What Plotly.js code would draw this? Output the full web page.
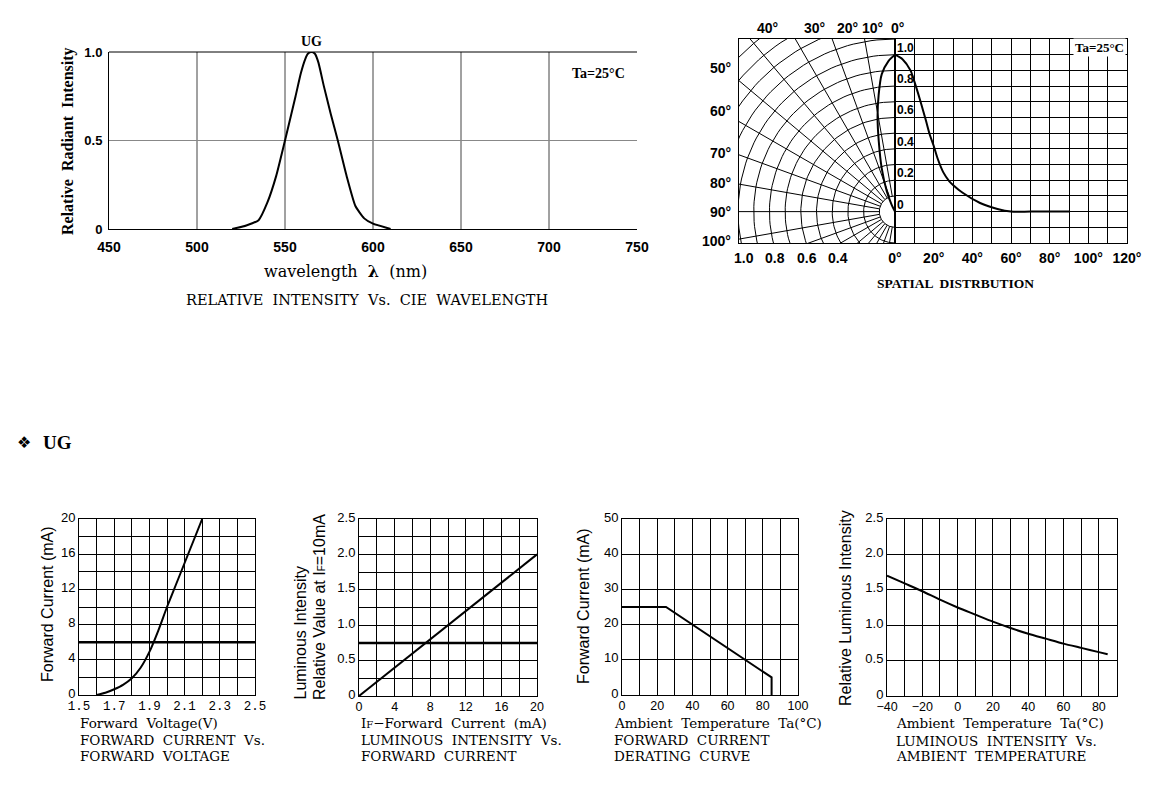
<!DOCTYPE html>
<html><head><meta charset="utf-8">
<script src="https://cdn.plot.ly/plotly-3.0.1.min.js"></script>
<style>html,body{margin:0;padding:0;background:#fff}</style>
</head><body><div id="chart" style="width:1165px;height:786px"></div>
<script>
const W=1165,H=786;

// ---- Relative intensity vs wavelength ----
const wavelength=[520,528,535,540,545,550,556,559,561.5,563,565,567,569,572,576,580,585,590,595,600,610];
const relIntensity=[0,0.02,0.05,0.15,0.3,0.5,0.75,0.88,0.96,0.99,1.0,0.99,0.94,0.81,0.65,0.5,0.3,0.13,0.06,0.03,0];
const specXTicks=[450,500,550,600,650,700,750];
const specGrid=[500,550,600,650,700];
const specYTicks=[0,0.5,1.0];
const specYText=['0','0.5','1.0'];

// ---- Spatial distribution ----
const spAngle=[0,4,8,10,13,16,18,20,22,25,28,30,35,44,53,60,70,80,90];
const spIntensity=[1.0,0.97,0.9,0.83,0.71,0.58,0.49,0.42,0.34,0.25,0.195,0.17,0.12,0.055,0.017,0,0,0,0];
const polAngle=[0,2.5,5.5,8,10.5,13,17,22,26,30];
const polR=[1.0,0.96,0.88,0.75,0.61,0.46,0.29,0.14,0.05,0];
const spXTicks=[0,20,40,60,80,100,120];
const spXText=['0°','20°','40°','60°','80°','100°','120°'];
const spInnerTicks=[0,0.2,0.4,0.6,0.8,1.0];
const spInnerText=['0','0.2','0.4','0.6','0.8','1.0'];
const polRadTicks=[1.0,0.8,0.6,0.4];
const polRadText=['1.0','0.8','0.6','0.4'];
const polTopLabels=['40°','30°','20°','10°','0°'];
const polLeftLabels=['50°','60°','70°','80°','90°','100°'];

// ---- Forward current vs forward voltage ----
const fvVoltage=[1.6,1.65,1.7,1.75,1.8,1.85,1.9,1.95,2.0,2.05,2.1,2.15,2.2];
const fvCurrent=[0,0.25,0.65,1.15,1.9,3.1,4.9,7.3,10,12.5,15,17.5,20];
const fvLevel=6;

// ---- Luminous intensity vs forward current ----
const ifCurrent=[0,20];
const ifLum=[0,2.0];
const ifLevel=0.75;
const lumYTicks=[0,0.25,0.5,0.75,1.0,1.25,1.5,1.75,2.0,2.25,2.5];
const lumYText=['0','','0.5','','1.0','','1.5','','2.0','','2.5'];

// ---- Derating curve ----
const derTemp=[0,25,85,85];
const derCurrent=[25,25,5,0];

// ---- Luminous intensity vs ambient temperature ----
const ambTemp=[-40,-30,-20,-10,0,10,20,30,40,50,60,70,80,85];
const ambLum=[1.7,1.59,1.48,1.36,1.25,1.15,1.05,0.96,0.88,0.81,0.74,0.68,0.62,0.59];
const ambYTicks=[0,0.5,1.0,1.5,2.0,2.5];
const ambYText=['0','0.5','1.0','1.5','2.0','2.5'];

// ---------- helpers ----------
const xd=(l,r)=>[l/W,r/W];
const yd=(t,b)=>[(H-b)/H,(H-t)/H];
const SANS='Liberation Sans, Arial, sans-serif';
const SERIF='Liberation Serif, Times New Roman, serif';
const TYPE='DejaVu Serif, serif';
const fBS=s=>({family:SANS,size:s,color:'#000',weight:700});
const fBT=s=>({family:SERIF,size:s,color:'#000',weight:700});
const fT=s=>({family:TYPE,size:s,color:'#000'});
const fS=s=>({family:SANS,size:s,color:'#000'});
const A=(t,x,y,font,o)=>Object.assign({text:t,xref:'paper',yref:'paper',x:x/W,y:1-y/H,showarrow:false,xanchor:'center',yanchor:'middle',font:font},o||{});
const rad=d=>d*Math.PI/180;

// polar grid geometry (left half of the spatial chart)
const PCX=895, PPX=156.9;
const arcX=[],arcY=[];
for(let k=1;k<=15;k++){const r=k/10;for(let a=0;a<=180;a+=2){arcX.push(-r*Math.sin(rad(a)));arcY.push(r*Math.cos(rad(a)));}arcX.push(null);arcY.push(null);}
const rayX=[],rayY=[];
for(let a=10;a<=170;a+=10){rayX.push(-0.1*Math.sin(rad(a)),-2.5*Math.sin(rad(a)),null);rayY.push(0.1*Math.cos(rad(a)),2.5*Math.cos(rad(a)),null);}
const polX=polR.map((r,i)=>-r*Math.sin(rad(polAngle[i])));
const polY=polR.map((r,i)=>r*Math.cos(rad(polAngle[i])));

const blk={color:'#000',width:2};
const traces=[
 {x:wavelength,y:relIntensity,xaxis:'x',yaxis:'y',mode:'lines',line:{color:'#000',width:2,shape:'spline',smoothing:0.5}},
 {x:arcX,y:arcY,xaxis:'x2',yaxis:'y2',mode:'lines',line:{color:'#000',width:1}},
 {x:rayX,y:rayY,xaxis:'x2',yaxis:'y2',mode:'lines',line:{color:'#000',width:1}},
 {x:polX,y:polY,xaxis:'x2',yaxis:'y2',mode:'lines',line:{color:'#000',width:2,shape:'spline',smoothing:0.8}},
 {x:spAngle,y:spIntensity,xaxis:'x3',yaxis:'y3',mode:'lines',line:{color:'#000',width:2,shape:'spline',smoothing:0.8}},
 {x:fvVoltage,y:fvCurrent,xaxis:'x4',yaxis:'y4',mode:'lines',line:{color:'#000',width:2,shape:'spline',smoothing:0.6}},
 {x:ifCurrent,y:ifLum,xaxis:'x5',yaxis:'y5',mode:'lines',line:blk},
 {x:derTemp,y:derCurrent,xaxis:'x6',yaxis:'y6',mode:'lines',line:blk},
 {x:ambTemp,y:ambLum,xaxis:'x7',yaxis:'y7',mode:'lines',line:{color:'#000',width:2,shape:'spline',smoothing:0.6}}
];

const base={showline:true,linecolor:'#000',linewidth:1,mirror:true,showgrid:true,gridcolor:'#000',gridwidth:1,zeroline:false,ticks:'',fixedrange:true,tickfont:fS(13)};
const ax=(o)=>Object.assign({},base,o);
const mn=(d)=>({dtick:d,showgrid:true,gridcolor:'#000',gridwidth:1,ticks:''});
const yb={ticklabelshift:-2};
const xb={ticklabelstandoff:-1,tickfont:fS(12.5)};

const layout={
 width:W,height:H,margin:{l:0,r:0,t:0,b:0},paper_bgcolor:'#fff',plot_bgcolor:'#fff',showlegend:false,
 xaxis:ax({domain:xd(109,637),range:[450,750],tickvals:specXTicks,showgrid:false,mirror:false,anchor:'y',tickfont:fBS(14),ticklabelstandoff:5}),
 yaxis:ax({domain:yd(52,229),range:[0,1],tickvals:specYTicks,ticktext:specYText,gridcolor:'#888',mirror:false,anchor:'x',tickfont:fBS(13),ticklabelstandoff:3}),
 xaxis2:ax({domain:xd(739,895),range:[-0.994,0],showgrid:false,showticklabels:false,anchor:'y2'}),
 yaxis2:ax({domain:yd(39,243),range:[-0.2,1.1],showgrid:false,showticklabels:false,anchor:'x2'}),
 xaxis3:ax({domain:xd(895,1127),range:[0,120],tickvals:spXTicks,ticktext:spXText,minor:mn(10),anchor:'y3',tickfont:fBS(14),ticklabelstandoff:2}),
 yaxis3:ax({domain:yd(39,243),range:[-0.2,1.1],tick0:0,dtick:0.1,showticklabels:false,anchor:'x3'}),
 xaxis4:ax(Object.assign({},xb,{domain:xd(79,255),range:[1.5,2.5],tick0:1.5,dtick:0.2,minor:mn(0.1),anchor:'y4',tickfont:{family:'Liberation Mono, monospace',size:12.5,color:'#000'}})),
 yaxis4:ax(Object.assign({domain:yd(519,695),range:[0,20],tick0:0,dtick:4,minor:mn(2),anchor:'x4'},yb)),
 xaxis5:ax(Object.assign({},xb,{domain:xd(359,537),range:[0,20],tick0:0,dtick:4,minor:mn(2),anchor:'y5'})),
 yaxis5:ax(Object.assign({domain:yd(519,696),range:[0,2.5],tickvals:lumYTicks,ticktext:lumYText,anchor:'x5'},yb)),
 xaxis6:ax(Object.assign({},xb,{domain:xd(622,798),range:[0,100],tick0:0,dtick:20,minor:mn(10),anchor:'y6'})),
 yaxis6:ax(Object.assign({domain:yd(519,695),range:[0,50],tick0:0,dtick:10,anchor:'x6'},yb)),
 xaxis7:ax(Object.assign({},xb,{domain:xd(887,1116.5),range:[-40,90],tick0:-40,dtick:20,minor:mn(10),anchor:'y7'})),
 yaxis7:ax(Object.assign({domain:yd(519,696),range:[0,2.5],tickvals:ambYTicks,ticktext:ambYText,anchor:'x7'},yb)),
 shapes:[
  {type:'line',xref:'x domain',yref:'y domain',x0:0,x1:1,y0:1,y1:1,line:{color:'#000',width:1}},
  {type:'line',xref:'x4 domain',yref:'y4',x0:0,x1:1,y0:fvLevel,y1:fvLevel,line:{color:'#000',width:2.5}},
  {type:'line',xref:'x5 domain',yref:'y5',x0:0,x1:1,y0:ifLevel,y1:ifLevel,line:{color:'#000',width:2.5}}
 ],
 annotations:[]
};
// vertical grid of the wavelength chart (no line at the right edge, as in the reference)
specGrid.forEach(v=>layout.shapes.unshift({type:'line',xref:'x',yref:'y domain',x0:v,x1:v,y0:0,y1:1,layer:'below',line:{color:'#444',width:1}}));

const an=layout.annotations;
// top-left chart
an.push({text:'UG',xref:'x',yref:'paper',x:565,y:1-42/H,xanchor:'center',yanchor:'middle',showarrow:false,font:fBT(14)});
an.push(A('Ta=25°C',598,73,fBT(14)));
an.push(A('Relative  Radiant  Intensity',68,141,fBT(16),{textangle:-90}));
an.push(A('wavelength  <b>λ</b>  (nm)',345,271,fT(16)));
an.push(A('RELATIVE  INTENSITY  Vs.  CIE  WAVELENGTH',367,300,fT(14.5)));
// spatial
const topX=[767,814,847,872,897];
polTopLabels.forEach((t,i)=>an.push(A(t,topX[i],28,fBS(14))));
const leftY=[68,111,153,183,212,241];
polLeftLabels.forEach((t,i)=>an.push(A(t,733,leftY[i],fBS(14),{xanchor:'right'})));
polRadTicks.forEach((r,i)=>an.push(A(polRadText[i],PCX-r*PPX+6,258,fBS(14))));
spInnerTicks.forEach((v,i)=>an.push({text:spInnerText[i],xref:'x3',yref:'y3',x:0,y:v,xanchor:'left',yanchor:'bottom',yshift:-2,showarrow:false,font:fBS(12)}));
an.push(A('Ta=25°C',1126,47,fBT(13),{xanchor:'right',bgcolor:'#fff',borderpad:1}));
an.push(A('SPATIAL  DISTRBUTION',955,283,fBT(13.5)));
// section header
an.push(A('❖',24,443,{family:'DejaVu Sans',size:16,color:'#000'}));
an.push(A('UG',57,443,fBT(19)));
// bottom chart texts
const L={xanchor:'left'};
const TY=723;
an.push(A('Forward Current (mA)',47,604,fS(16),{textangle:-90}));
an.push(A('Forward  Voltage(V)',78,TY,fT(13.5),L));
an.push(A('FORWARD  CURRENT  Vs.',78,740,fT(13.5),L));
an.push(A('FORWARD  VOLTAGE',78,756,fT(13.5),L));

an.push(A('Luminous Intensity',300,702,fS(16),{textangle:-90,yanchor:'bottom'}));
an.push(A('Relative Value at I<span style="font-size:10px">F</span>=10mA',319,702,fS(16),{textangle:-90,yanchor:'bottom'}));
an.push(A('I<span style="font-size:10px">F</span>−Forward  Current  (mA)',359,TY,fT(13.5),L));
an.push(A('LUMINOUS  INTENSITY  Vs.',359,740,fT(13.5),L));
an.push(A('FORWARD  CURRENT',359,756,fT(13.5),L));

an.push(A('Forward Current (mA)',583,606,fS(16),{textangle:-90}));
an.push(A('Ambient  Temperature  Ta(°C)',612,TY,fT(13.5),L));
an.push(A('FORWARD  CURRENT',612,740,fT(13.5),L));
an.push(A('DERATING  CURVE',612,756,fT(13.5),L));

an.push(A('Relative Luminous Intensity',845,608,fS(16),{textangle:-90}));
an.push(A('Ambient  Temperature  Ta(°C)',894,TY,fT(13.5),L));
an.push(A('LUMINOUS  INTENSITY  Vs.',894,741,fT(13.5),L));
an.push(A('AMBIENT  TEMPERATURE',894,756,fT(13.5),L));

Plotly.newPlot('chart',traces,layout,{displayModeBar:false,staticPlot:true});
</script></body></html>
